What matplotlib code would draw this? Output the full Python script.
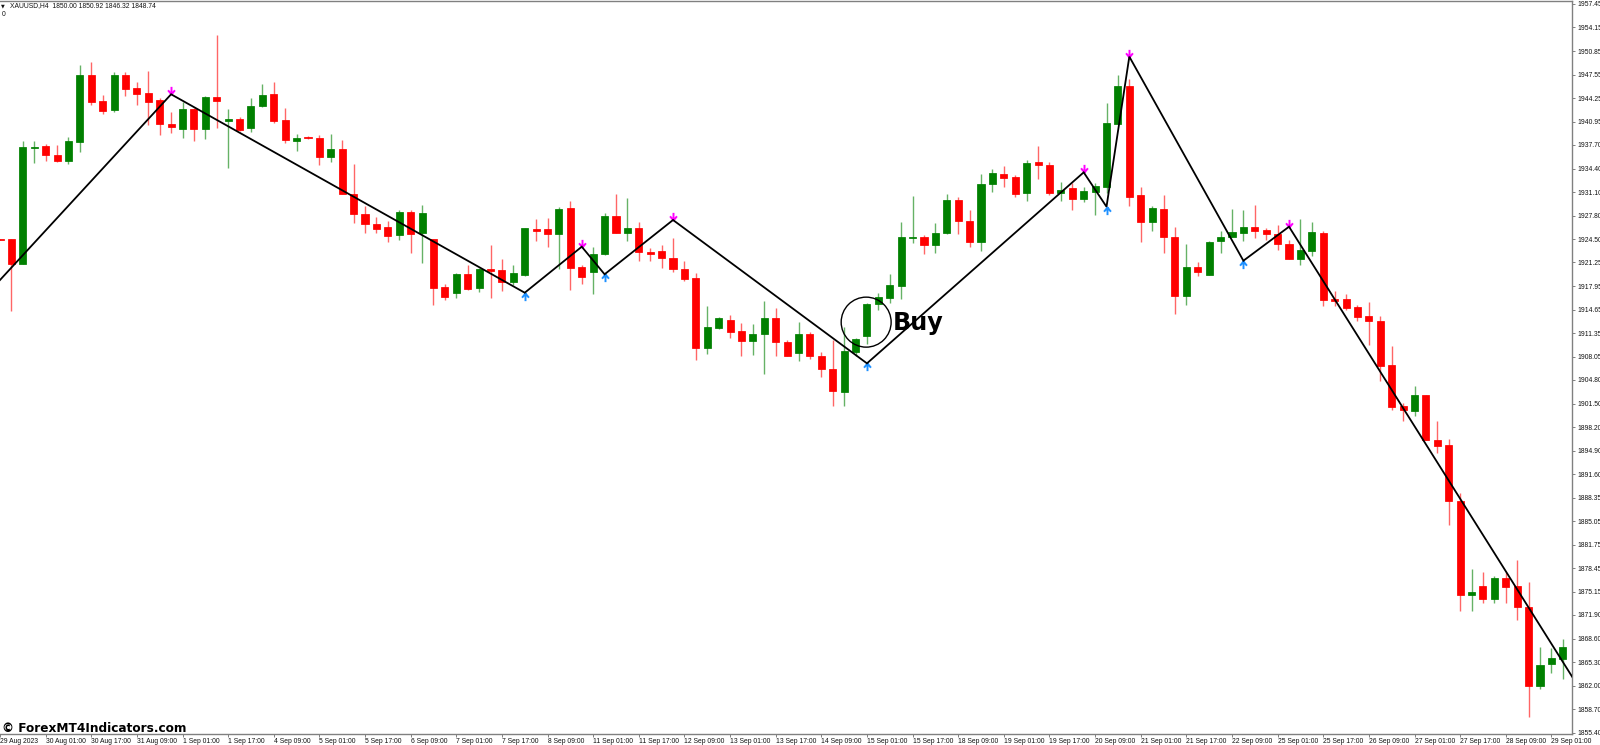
import numpy as np
import matplotlib
matplotlib.use("Agg")
import matplotlib.pyplot as plt
from matplotlib.patches import Ellipse
from matplotlib.path import Path

opens = [1924.6,
 1924.5,1921.0,1937.32,1937.56,1936.34,1935.5,1938.16,1947.46,1943.86,1942.56,
 1947.46,1945.68,1944.98,1944.0,1940.64,1939.98,1942.74,1939.9,1944.46,1941.1,
 1941.34,1940.08,1943.16,1944.84,1941.16,1938.26,1938.82,1938.68,1936.02,1937.14,
 1930.84,1928.04,1926.68,1926.26,1925.06,1928.36,1925.42,1924.5,1917.86,1916.94,
 1919.68,1917.64,1920.38,1920.2,1918.52,1919.5,1925.94,1925.9,1925.28,1928.88,
 1920.62,1919.96,1922.48,1927.76,1925.42,1926.08,1922.76,1922.86,1921.84,1920.34,
 1919.08,1909.32,1912.12,1913.2,1911.62,1910.3,1911.24,1913.48,1910.16,1908.54,
 1911.2,1908.2,1906.38,1903.16,1908.72,1910.96,1915.4,1916.32,1918.0,1924.64,
 1924.86,1923.74,1925.34,1930.04,1927.02,1924.12,1932.28,1933.64,1933.22,1930.98,
 1935.32,1934.94,1930.98,1931.72,1930.1,1931.16,1931.82,1940.68,1946.0,1930.66,
 1926.92,1928.74,1924.78,1916.52,1920.58,1919.5,1924.22,1924.78,1925.38,1926.18,
 1925.76,1925.2,1923.8,1921.78,1922.86,1925.38,1916.18,1916.1,1914.98,1913.72,
 1913.1,1906.9,1901.16,1900.5,1902.66,1896.4,1895.7,1887.9,1874.7,1875.96,
 1874.1,1877.12,1875.96,1872.98,1861.92,1865.08,1865.78]
highs = [1924.6,
 1924.5,1938.3,1938.3,1937.8,1937.7,1938.86,1948.9,1949.28,1944.66,1947.96,
 1947.96,1946.48,1948.1,1944.24,1942.28,1943.76,1942.84,1944.6,1953.1,1942.74,
 1941.58,1944.24,1946.24,1946.56,1942.92,1939.24,1939.0,1939.06,1939.2,1938.4,
 1935.0,1929.16,1927.66,1927.1,1928.6,1928.6,1929.3,1924.5,1918.24,1919.74,
 1920.9,1920.44,1923.7,1921.7,1920.9,1926.08,1927.34,1927.48,1929.06,1929.86,
 1920.86,1923.38,1928.14,1930.84,1930.28,1926.88,1923.24,1923.66,1924.64,1921.46,
 1919.74,1915.16,1913.66,1913.9,1912.74,1912.68,1915.82,1914.88,1910.4,1912.96,
 1911.48,1908.76,1910.4,1912.18,1910.72,1915.54,1916.94,1919.64,1926.88,1930.56,
 1925.06,1926.78,1930.8,1930.42,1928.56,1933.6,1934.3,1934.72,1933.54,1935.56,
 1937.52,1935.32,1932.48,1932.34,1931.86,1932.42,1943.62,1947.54,1946.9,1931.78,
 1929.16,1930.7,1926.18,1923.84,1921.36,1924.3,1925.62,1928.74,1928.6,1929.3,
 1926.04,1926.5,1924.36,1927.3,1926.96,1925.62,1917.26,1916.88,1915.26,1915.76,
 1913.76,1909.56,1901.54,1903.96,1902.66,1899.1,1896.5,1889.02,1878.34,1877.92,
 1877.36,1877.96,1879.6,1876.52,1867.38,1867.24,1868.5]
lows = [1924.4,
 1914.5,1921.0,1935.22,1935.46,1935.36,1935.08,1936.72,1943.26,1942.08,1942.36,
 1944.56,1943.34,1940.5,1939.06,1939.42,1938.68,1938.26,1938.5,1940.12,1934.52,
 1939.7,1939.48,1943.06,1940.82,1938.02,1936.9,1938.5,1934.94,1935.28,1930.77,
 1926.82,1925.42,1925.42,1924.16,1924.4,1922.58,1921.18,1915.3,1916.0,1916.28,
 1917.4,1917.12,1916.28,1917.3,1918.1,1919.4,1924.26,1923.38,1920.3,1917.4,
 1918.2,1916.8,1922.3,1925.38,1924.3,1921.46,1921.5,1920.52,1919.96,1918.62,
 1907.6,1908.44,1911.9,1910.72,1908.2,1908.3,1905.64,1908.2,1908.16,1907.5,
 1907.74,1905.26,1901.2,1901.2,1908.16,1909.8,1914.6,1915.54,1916.14,1924.02,
 1922.4,1922.62,1925.24,1925.2,1923.46,1922.9,1931.16,1931.78,1930.38,1929.9,
 1932.9,1930.7,1929.9,1928.6,1929.72,1927.94,1931.02,1940.64,1929.2,1924.16,
 1925.7,1922.62,1914.04,1915.34,1919.36,1919.5,1922.62,1924.78,1924.22,1924.72,
 1924.4,1923.0,1921.78,1920.94,1922.2,1915.2,1915.2,1914.6,1913.1,1909.74,
 1904.7,1900.6,1899.1,1899.76,1896.4,1894.58,1884.46,1872.5,1872.5,1873.54,
 1873.62,1873.62,1871.2,1857.58,1861.58,1863.78,1862.98]
closes = [1924.4,
 1921.08,1937.4,1937.46,1936.3,1935.46,1938.26,1947.54,1943.76,1942.5,1947.46,
 1945.5,1944.88,1943.76,1940.6,1940.18,1942.74,1939.9,1944.46,1943.86,1941.34,
 1939.84,1943.16,1944.74,1941.06,1938.4,1938.68,1938.68,1936.02,1937.14,1930.84,
 1928.0,1926.6,1925.98,1925.0,1928.36,1925.28,1928.18,1917.72,1916.42,1919.68,
 1917.58,1920.34,1920.1,1918.52,1919.78,1926.08,1925.7,1925.28,1928.74,1920.52,
 1919.22,1922.44,1927.76,1925.42,1926.08,1922.76,1922.44,1921.92,1920.3,1918.98,
 1909.24,1912.18,1913.48,1911.52,1910.22,1911.28,1913.48,1910.12,1908.2,1911.28,
 1908.12,1906.34,1903.26,1908.86,1910.58,1915.48,1916.38,1918.1,1924.78,1924.86,
 1923.74,1925.34,1929.96,1927.06,1924.12,1932.24,1933.74,1933.12,1930.88,1935.22,
 1934.9,1930.98,1931.4,1930.1,1931.26,1931.92,1940.82,1946.0,1930.42,1926.92,
 1928.84,1924.82,1916.6,1920.58,1919.96,1924.16,1924.86,1925.56,1926.18,1925.62,
 1925.28,1923.8,1921.78,1923.0,1925.48,1916.0,1915.82,1914.88,1913.62,1913.02,
 1906.76,1901.02,1900.6,1902.66,1896.4,1895.56,1887.9,1874.7,1875.08,1874.1,
 1877.12,1875.86,1873.06,1861.92,1864.86,1865.84,1867.38]

zigzag_bars = [-1, 14, 45, 50, 52, 58, 75, 94, 96, 98, 108, 112, 137]
zigzag_prices = [1918.8, 1944.8, 1917.02, 1923.46, 1919.6, 1927.2, 1907.13,
                 1933.87, 1929.06, 1950.07, 1921.5, 1926.26, 1862.8]
peak_bars = [14, 50, 58, 94, 98, 112]
peak_prices = [1944.8, 1923.46, 1927.2, 1933.87, 1950.07, 1926.26]
trough_bars = [45, 52, 75, 96, 108]
trough_prices = [1917.02, 1919.6, 1907.13, 1929.06, 1921.5]

price_ticks = ["1957.45","1954.15","1950.85","1947.55","1944.25","1940.95","1937.70","1934.40",
 "1931.10","1927.80","1924.50","1921.25","1917.95","1914.65","1911.35","1908.05","1904.80",
 "1901.50","1898.20","1894.90","1891.60","1888.35","1885.05","1881.75","1878.45","1875.15",
 "1871.90","1868.60","1865.30","1862.00","1858.70","1855.40"]
time_ticks = ["29 Aug 2023","30 Aug 01:00","30 Aug 17:00","31 Aug 09:00","1 Sep 01:00","1 Sep 17:00",
 "4 Sep 09:00","5 Sep 01:00","5 Sep 17:00","6 Sep 09:00","7 Sep 01:00","7 Sep 17:00","8 Sep 09:00",
 "11 Sep 01:00","11 Sep 17:00","12 Sep 09:00","13 Sep 01:00","13 Sep 17:00","14 Sep 09:00",
 "15 Sep 01:00","15 Sep 17:00","18 Sep 09:00","19 Sep 01:00","19 Sep 17:00","20 Sep 09:00",
 "21 Sep 01:00","21 Sep 17:00","22 Sep 09:00","25 Sep 01:00","25 Sep 17:00","26 Sep 09:00",
 "27 Sep 01:00","27 Sep 17:00","28 Sep 09:00","29 Sep 01:00"]

W, H = 1600, 745
FONT = ["Liberation Sans", "DejaVu Sans"]
fig = plt.figure(figsize=(W / 100, H / 100), dpi=100, facecolor="white")
ax = fig.add_axes([0, (H - 734) / H, 1571.7 / W, 733 / H])
ax.set_xlim(-0.964, 136.78)
ax.set_ylim(1855.24, 1957.86)

bars = np.arange(-1, len(opens) - 1)
o, h, l, c = map(np.array, (opens, highs, lows, closes))
up = c >= o
colors = np.where(up, "#008000", "#ff0000")

ax.vlines(bars[up], l[up], h[up], colors="#008000", linewidth=1.0, alpha=0.6, zorder=2)
ax.vlines(bars[~up], l[~up], h[~up], colors="#ff0000", linewidth=1.0, alpha=0.6, zorder=2)
ax.bar(bars, np.abs(c - o), bottom=np.minimum(o, c), width=0.62, color=colors,
       edgecolor=colors, linewidth=0.55, zorder=3)

ax.plot(zigzag_bars, zigzag_prices, color="black", linewidth=1.3, zorder=4,
        solid_joinstyle="miter")

down_arrow = Path([(0, 1), (0, 0), (-0.45, 0.55), (0, 0), (0.45, 0.55)],
                  [Path.MOVETO, Path.LINETO, Path.MOVETO, Path.LINETO, Path.LINETO])
up_arrow = Path([(0, -1), (0, 0), (-0.45, -0.55), (0, 0), (0.45, -0.55)],
                [Path.MOVETO, Path.LINETO, Path.MOVETO, Path.LINETO, Path.LINETO])
ax.plot(peak_bars, peak_prices, ls="none", marker=down_arrow, ms=11, mew=1.4,
        mec="#ff00ff", mfc="none", zorder=3.5)
ax.plot(trough_bars, trough_prices, ls="none", marker=up_arrow, ms=11, mew=1.4,
        mec="#1e90ff", mfc="none", zorder=3.5)

ax.add_patch(Ellipse((74.93, 1912.9), 4.38, 7.0, fill=False, edgecolor="black",
                     linewidth=1.0, zorder=6))
ax.text(77.3, 1912.8, "Buy", family="DejaVu Sans", fontweight="bold", fontsize=17.2,
        color="black", ha="left", va="center", zorder=7)

ax.spines["left"].set_visible(False)
for s in ("top", "right", "bottom"):
    ax.spines[s].set_color("#808080")
    ax.spines[s].set_linewidth(1.0)

ax.yaxis.tick_right()
ax.set_yticks([float(t) for t in price_ticks])
ax.set_yticklabels(price_ticks, family=FONT, fontsize=4.85, color="#111111")
ax.tick_params(axis="y", length=2, width=0.7, color="#808080", pad=2.2)

ax.set_xticks(np.arange(-1, 136, 4))
ax.set_xticklabels(time_ticks, family=FONT, fontsize=4.85, color="#111111", ha="left")
ax.tick_params(axis="x", length=2, width=0.7, color="#808080", pad=1.2)

fig.text(10 / W, 1 - 6 / H, "XAUUSD,H4  1850.00 1850.92 1846.32 1848.74", family=FONT,
         fontsize=4.9, color="#111111", ha="left", va="center")
fig.text(2 / W, 1 - 15 / H, "0", family=FONT, fontsize=4.9, color="#111111", ha="left", va="center")
fig.text(1 / W, 1 - 6 / H, "▼", family="DejaVu Sans", fontsize=3.5, color="#111111", ha="left", va="center")
fig.text(2 / W, 1 - 728 / H, "© ForexMT4Indicators.com", family="DejaVu Sans", fontweight="bold",
         fontsize=8.75, color="black", ha="left", va="center", zorder=8)

fig.savefig("out.png", dpi=100, facecolor="white")
